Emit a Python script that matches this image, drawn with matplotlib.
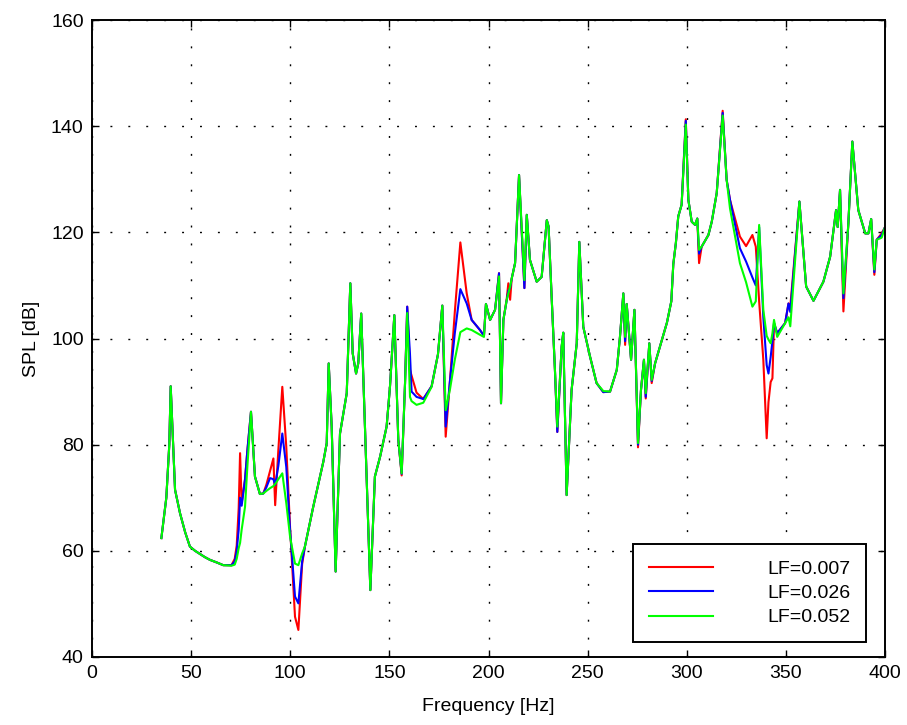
import matplotlib
matplotlib.use("Agg")
import matplotlib.pyplot as plt

# frequency points [Hz] shared by the three curves
freq = [
    35, 37.5, 39, 39.7, 41.9, 44.4, 47, 49.4, 52, 54.5,
    57, 59.5, 63, 66.2, 70.4, 72, 73, 74, 74.7, 75.5,
    77.2, 78.4, 80.2, 82.2, 84.7, 86.4, 88, 89.8, 91.5, 92.4,
    94, 96, 98, 99.9, 102.4, 104.1, 106, 107.4, 111.6, 116.7,
    118.4, 119.4, 120.9, 122.9, 125.1, 128.5, 130.3, 131.5, 133.2, 134.3,
    135.8, 137.7, 140.4, 142.7, 145.3, 148.6, 150.3, 152.5, 154.5, 156.2,
    157.9, 159, 160.4, 161.2, 163.7, 167.1, 171.3, 174.5, 176.7, 178.4,
    180.6, 183, 185.8, 189, 191.5, 195.7, 197.7, 198.7, 200.8, 203.3,
    205.3, 206.3, 207.5, 209.2, 210, 210.9, 211.7, 213.4, 215.4, 218.1,
    219.3, 220.9, 224.3, 226.8, 229.4, 230.3, 231.9, 233.5, 234.7, 236.9,
    237.7, 239.4, 241.9, 244.5, 245.8, 247.8, 251.2, 254.5, 257.9, 261.3,
    264.7, 266.3, 268.0, 268.9, 269.7, 271.9, 273.6, 275.4, 276.9, 278.4,
    279.3, 281.1, 282.3, 284, 287.4, 290, 292.2, 293.2, 294.5, 295.7,
    297.4, 299.5, 300.8, 302.5, 304.2, 305.3, 306.2, 307.5, 310.9, 312.6,
    315.1, 318.1, 320.1, 321.8, 326.8, 329.9, 333.1, 334.8, 336.5, 338.6,
    340.3, 341.2, 342.3, 343.2, 344, 345.6, 349.6, 351.3, 352.2, 356.8,
    360.2, 363.9, 368.9, 372.3, 375.3, 376.1, 377.3, 379, 381.5, 383.5,
    386.5, 390, 391.6, 393, 394.6, 395.8, 398.3, 400,
]

# SPL [dB], loss factor 0.007
spl_lf007 = [
    62.4, 70, 80, 91, 71.5, 67.1, 63.5, 60.8, 60.0, 59.4,
    58.8, 58.3, 57.8, 57.3, 57.3, 58.5, 61, 68, 78.4, 69,
    73.5, 79, 86.2, 74, 70.7, 70.8, 72.5, 75, 77.4, 68.6,
    79, 90.9, 79.6, 64.5, 47.6, 45.1, 57.5, 60.8, 68.3, 76.8,
    80.3, 95.3, 83.4, 56.1, 82.1, 89.7, 110.4, 97.2, 93.4, 95.3,
    104.7, 83.4, 52.6, 74.0, 77.7, 83.4, 90.9, 104.4, 80.9, 74.2,
    91.6, 106, 94.1, 93, 89.8, 88.6, 91, 97, 106.2, 81.5,
    92.2, 105, 118.1, 108.5, 103.5, 101.6, 100.5, 106.5, 103.5, 105.4,
    112.3, 87.8, 103.5, 107.5, 110.4, 107.3, 111.3, 114.2, 130.8, 109.5,
    123.3, 114.8, 110.7, 111.6, 122.3, 121.1, 107.3, 94.1, 82.4, 98.5,
    101.1, 70.5, 90.3, 99.1, 118.2, 102.2, 96.6, 91.6, 89.9, 90.0,
    94.1, 100.3, 108.5, 98.8, 106.5, 96.0, 105.4, 79.5, 90.3, 96.0,
    88.7, 99.1, 91.6, 95.3, 99.7, 103, 107, 114, 118, 123,
    125.2, 141.3, 126.1, 122.0, 121.4, 122.6, 114.2, 117.3, 119.5, 122.0,
    127.4, 142.9, 129.9, 126.1, 119.2, 117.4, 119.5, 117.3, 107, 96,
    81.2, 88, 91.8, 92.5, 102.9, 101, 102.9, 106.6, 106, 125.8,
    109.8, 107.1, 110.7, 115.4, 124.2, 121, 128.0, 105.1, 121.7, 137.1,
    124.2, 119.8, 119.8, 122.5, 112, 118.6, 119.8, 121,
]

# SPL [dB], loss factor 0.026
spl_lf026 = [
    62.4, 70, 80, 91, 71.5, 67.1, 63.5, 60.8, 60.0, 59.4,
    58.8, 58.3, 57.8, 57.3, 57.3, 58, 60, 64, 70, 68.5,
    73.5, 79, 86.2, 74, 70.7, 70.8, 72, 73.7, 73.5, 72.4,
    76, 82.1, 75.8, 64, 51.4, 50.1, 58, 60.8, 68.3, 76.8,
    80.3, 95.3, 83.4, 56.1, 82.1, 89.7, 110.4, 97.2, 93.4, 95.3,
    104.7, 83.4, 52.6, 74.0, 77.7, 83.4, 90.9, 104.4, 80.9, 74.5,
    91.6, 106, 97, 90, 89, 88.6, 91, 97, 106.2, 83.4,
    92.2, 101, 109.3, 106.6, 103.5, 101.6, 100.5, 106.5, 103.5, 105.4,
    112.3, 87.8, 103.5, 107.3, 109, 109.5, 111.3, 114.2, 130.8, 109.5,
    123.3, 114.8, 110.7, 111.6, 122.3, 121.1, 107.3, 94.1, 82.4, 98.5,
    101.1, 70.5, 90.3, 99.1, 118.2, 102.2, 96.6, 91.6, 89.9, 90.0,
    94.1, 100.3, 108.5, 99.5, 106.5, 96.0, 105.4, 80, 90.3, 96.0,
    89, 99.1, 92, 95.3, 99.7, 103, 107, 114, 118, 123,
    125.2, 141, 126.1, 122.0, 121.4, 122.6, 116, 117.3, 119.5, 122.0,
    127.4, 142.5, 129.9, 126.1, 117.0, 114.5, 111.5, 110, 121, 104,
    95, 93.4, 96.5, 99.5, 102.9, 101, 102.9, 106.6, 105, 125.8,
    109.8, 107.1, 110.7, 115.4, 124.2, 121, 128.0, 107.6, 121.7, 137.1,
    124.2, 119.8, 119.8, 122.5, 112.5, 118.6, 119.5, 121,
]

# SPL [dB], loss factor 0.052
spl_lf052 = [
    62.4, 70, 80, 91, 71.5, 67.1, 63.5, 60.8, 60.0, 59.4,
    58.8, 58.3, 57.8, 57.3, 57.2, 57.4, 58.5, 60.5, 61.5, 64,
    68.3, 76, 86.2, 74, 70.7, 70.8, 71.3, 71.8, 72.2, 72.6,
    73.5, 74.6, 69, 62.7, 57.6, 57.3, 59.5, 60.8, 68.3, 76.8,
    80.3, 95.3, 83.4, 56.1, 82.1, 89.7, 110.4, 97.2, 93.4, 95.3,
    104.7, 83.4, 52.6, 74.0, 77.7, 83.4, 90.9, 104.4, 80.9, 74.6,
    91.6, 104.8, 89, 88.2, 87.5, 87.9, 90.9, 97, 106.2, 86.5,
    90.5, 96, 101.2, 101.9, 101.6, 100.7, 100.3, 106.5, 103.5, 105.4,
    111.7, 87.8, 103.5, 107.3, 108.5, 109.8, 111.3, 114.2, 130.8, 111,
    123.3, 114.8, 110.7, 111.6, 122.3, 121.1, 107.3, 94.1, 83.4, 98.5,
    101.1, 70.5, 90.3, 99.1, 118.2, 102.2, 96.6, 91.6, 90.1, 90.0,
    94.1, 100.3, 108.5, 100.3, 106.5, 96.0, 105.4, 80.3, 90.3, 96.0,
    89.7, 99.1, 92.2, 95.3, 99.7, 103, 107, 114, 118, 123,
    125.2, 140.3, 126.1, 122.0, 121.4, 122.6, 116.7, 117.3, 119.5, 122.0,
    127.4, 142, 129.9, 124.5, 114.2, 110.6, 106, 107, 121.4, 105.4,
    100.5, 99.8, 99.1, 101, 103.5, 100.3, 102.9, 104, 102.3, 125.8,
    109.8, 107.1, 110.7, 115.4, 124.2, 121, 128.0, 108.5, 121.7, 137.1,
    124.2, 119.8, 119.8, 122.5, 113, 118.6, 119, 121,
]

series = [
    ("LF=0.007", spl_lf007, "#ff0000"),
    ("LF=0.026", spl_lf026, "#0000ff"),
    ("LF=0.052", spl_lf052, "#00ff00"),
]

x_ticks = [0, 50, 100, 150, 200, 250, 300, 350, 400]
y_ticks = [40, 60, 80, 100, 120, 140, 160]

plt.rcParams["font.family"] = ["Liberation Sans", "DejaVu Sans"]
plt.rcParams["font.size"] = 14

fig = plt.figure(figsize=(9.07, 7.25), dpi=100)
ax = fig.add_axes([0.1014, 0.0938, 0.8744, 0.8786])

for label, values, color in series:
    ax.plot(freq, values, color=color, linewidth=1.5, label=label)

ax.set_xlim(0, 400)
ax.set_ylim(40, 160)
ax.set_xticks(x_ticks)
ax.set_yticks(y_ticks)
ax.grid(True, color="black", linestyle=(0, (1.4, 11.5)), linewidth=1.0)
ax.tick_params(direction="in", length=5, width=1, top=True, right=True,
               labelsize=14, pad=6)
for spine in ax.spines.values():
    spine.set_linewidth(1.4)

ax.set_xlabel("Frequency [Hz]", fontsize=14, labelpad=11)
ax.set_ylabel("SPL [dB]", fontsize=14, labelpad=8)

leg = ax.legend(loc="lower right", bbox_to_anchor=(0.976, 0.0235),
                borderaxespad=0, fancybox=False, framealpha=1,
                edgecolor="black", handlelength=3.3, handletextpad=2.8,
                labelspacing=0.35, borderpad=0.8, fontsize=14)
leg.get_frame().set_linewidth(1.4)

fig.savefig("out.png", dpi=100, facecolor="white")
